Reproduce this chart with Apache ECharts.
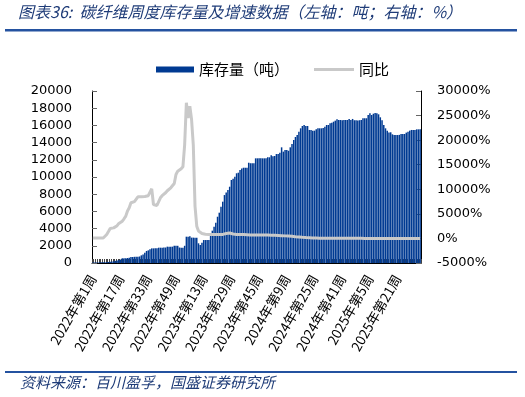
<!DOCTYPE html>
<html>
<head>
<meta charset="utf-8">
<script src="https://cdn.jsdelivr.net/npm/echarts@6/dist/echarts.min.js"></script>
<style>
  html, body { margin: 0; padding: 0; background: #fff; }
  #main { width: 525px; height: 397px; }
</style>
</head>
<body>
<div id="main"></div>
<script>
// weekly labels: 2022W1 .. 2025W34
var years = [2022, 2023, 2024, 2025];
var weeksPerYear = [52, 52, 52, 34];
var categories = [];
for (var y = 0; y < years.length; y++) {
  for (var w = 1; w <= weeksPerYear[y]; w++) {
    categories.push(years[y] + '年第' + w + '周');
  }
}

// 库存量（吨）
var stock = [
  60, 60, 70, 70, 80, 80, 90, 100, 110, 120,
  150, 180, 200, 250, 300, 350, 400, 550, 560, 560,
  580, 600, 700, 700, 720, 720, 740, 760, 890, 1000,
  1200, 1400, 1470, 1590, 1700, 1700, 1720, 1720, 1780, 1780,
  1780, 1790, 1800, 1900, 1900, 1900, 1900, 2000, 2000, 2000,
  1800, 1780, 1780, 2000, 3060, 3060, 3100, 2950, 2950, 2950,
  2950, 2290, 2100, 2350, 2670, 2670, 2670, 2670, 3450, 3760,
  4220, 4690, 5380, 5850, 6550, 7130, 7900, 8200, 8490, 8870,
  9650, 9800, 10040, 10430, 10500, 10810, 11000, 11080, 11080, 11080,
  11660, 11600, 11600, 11600, 12170, 12170, 12170, 12170, 12170, 12170,
  12170, 12290, 12290, 12520, 12400, 12440, 12670, 12670, 12830, 13450,
  12950, 13140, 13140, 13050, 13450, 13840, 14300, 14650, 14880, 15270,
  15660, 15930, 16050, 15930, 15930, 15470, 15470, 15390, 15390, 15540,
  15660, 15660, 15660, 15700, 15850, 16050, 16050, 16240, 16320, 16430,
  16550, 16710, 16630, 16630, 16600, 16630, 16630, 16630, 16750, 16630,
  16750, 16600, 16600, 16560, 16600, 16630, 16830, 16830, 16830, 17210,
  17400, 17210, 17360, 17440, 17400, 17290, 16940, 16600, 16050, 15660,
  15390, 15160, 15200, 14960, 14880, 14880, 14880, 14900, 15000, 15000,
  15000, 15160, 15270, 15390, 15470, 15470, 15470, 15540, 15540, 15540
];

// 同比（%）
var yoy = [
  100, 90, 80, 80, 70, 80, 90, 150, 800, 1400,
  2030, 2100, 2150, 2170, 2600, 3050, 3300, 3520, 4000, 4540,
  5600, 6240, 7260, 7400, 7500, 7580, 8470, 8470, 8470, 8500,
  8550, 8600, 8700, 8950, 10100, 6910, 6700, 6700, 6910, 8270,
  8700, 9000, 9290, 9700, 10000, 10300, 10630, 11180, 13000, 13690,
  14000, 14170, 14580, 19000, 27600, 24500, 26900, 24200, 19000, 6500,
  2500, 1500, 1290, 1000, 950, 850, 800, 800, 800, 800,
  800, 800, 800, 800, 800, 820, 900, 1000, 1150, 1100,
  1000, 900, 800, 800, 800, 800, 800, 780, 760, 740,
  720, 700, 700, 690, 680, 680, 680, 680, 680, 680,
  680, 680, 670, 660, 650, 640, 620, 600, 580, 560,
  540, 520, 500, 480, 450, 420, 390, 350, 320, 290,
  260, 230, 200, 180, 160, 140, 120, 100, 90, 80,
  70, 60, 50, 50, 40, 40, 40, 40, 40, 40,
  35, 34, 32, 30, 28, 27, 26, 25, 24, 22,
  20, 18, 16, 15, 14, 12, 10, 9, 8, 8,
  7, 6, 5, 4, 3, 2, 0, -2, -4, -6,
  -8, -9, -10, -10, -11, -11, -10, -10, -9, -9,
  -8, -8, -7, -7, -6, -6, -6, -5, -5, -5
];

var titleText = '图表36:  碳纤维周度库存量及增速数据（左轴：吨；右轴：%）';
var sourceText = '资料来源：百川盈孚，国盛证券研究所';

var navy = '#1F3C78';
var barBlue = '#003A92';
var lineGray = '#C9C9C9';
var cjk = '"Noto Sans CJK SC", sans-serif';
var num = '"DejaVu Sans", sans-serif';

var myChart = echarts.init(document.getElementById('main'));
myChart.setOption({
  animation: false,
  backgroundColor: '#fff',
  graphic: [
    { type: 'text', left: 18, top: 4,
      style: { text: titleText, fill: navy, font: 'italic 16px ' + cjk } },
    { type: 'rect', shape: { x: 5, y: 29, width: 512, height: 2.5 },
      style: { fill: '#2452A0' } },
    { type: 'rect', shape: { x: 5, y: 371, width: 512, height: 2 },
      style: { fill: '#2452A0' } },
    { type: 'text', left: 20, top: 375,
      style: { text: sourceText, fill: navy, font: 'italic 15px ' + cjk } }
  ],
  legend: [
    { left: 151, top: 57,
      itemWidth: 38, itemHeight: 6,
      textStyle: { fontFamily: cjk, fontSize: 15, color: '#000' },
      data: [{ name: '库存量（吨）', icon: 'rect' }] },
    { left: 309, top: 57,
      itemWidth: 40, itemHeight: 3,
      textStyle: { fontFamily: cjk, fontSize: 15, color: '#000' },
      data: [{ name: '同比', icon: 'rect' }] }
  ],
  grid: { left: 92, right: 104, top: 91, bottom: 134 },
  xAxis: {
    type: 'category',
    data: categories,
    axisLine: { lineStyle: { color: '#000', width: 1 } },
    axisTick: { show: true, inside: true, length: 4, interval: 0,
      lineStyle: { color: '#444' } },
    axisLabel: { interval: 15, rotate: 60, margin: 13,
      fontFamily: cjk, fontSize: 13.5, color: '#000' },
    splitLine: { show: false }
  },
  yAxis: [
    { type: 'value', min: 0, max: 20000, interval: 2000,
      axisLine: { show: true, lineStyle: { color: '#000' } },
      axisTick: { show: true, inside: true, length: 5, lineStyle: { color: '#666' } },
      axisLabel: { margin: 20, fontFamily: num, fontSize: 13, color: '#000',
        formatter: function (v) { return String(v); } },
      splitLine: { show: false } },
    { type: 'value', min: -5000, max: 30000, interval: 5000,
      axisLine: { show: true, lineStyle: { color: '#000' } },
      axisTick: { show: true, inside: true, length: 5, lineStyle: { color: '#666' } },
      axisLabel: { margin: 16, fontFamily: num, fontSize: 13, color: '#000',
        formatter: function (v) { return v + '%'; } },
      splitLine: { show: false } }
  ],
  series: [
    { name: '库存量（吨）', type: 'bar', yAxisIndex: 0,
      data: stock, barWidth: 1.5,
      itemStyle: { color: barBlue } },
    { name: '同比', type: 'line', yAxisIndex: 1,
      data: yoy, symbol: 'none', z: 5,
      lineStyle: { color: lineGray, width: 3 },
      itemStyle: { color: lineGray } }
  ]
});
</script>
</body>
</html>
